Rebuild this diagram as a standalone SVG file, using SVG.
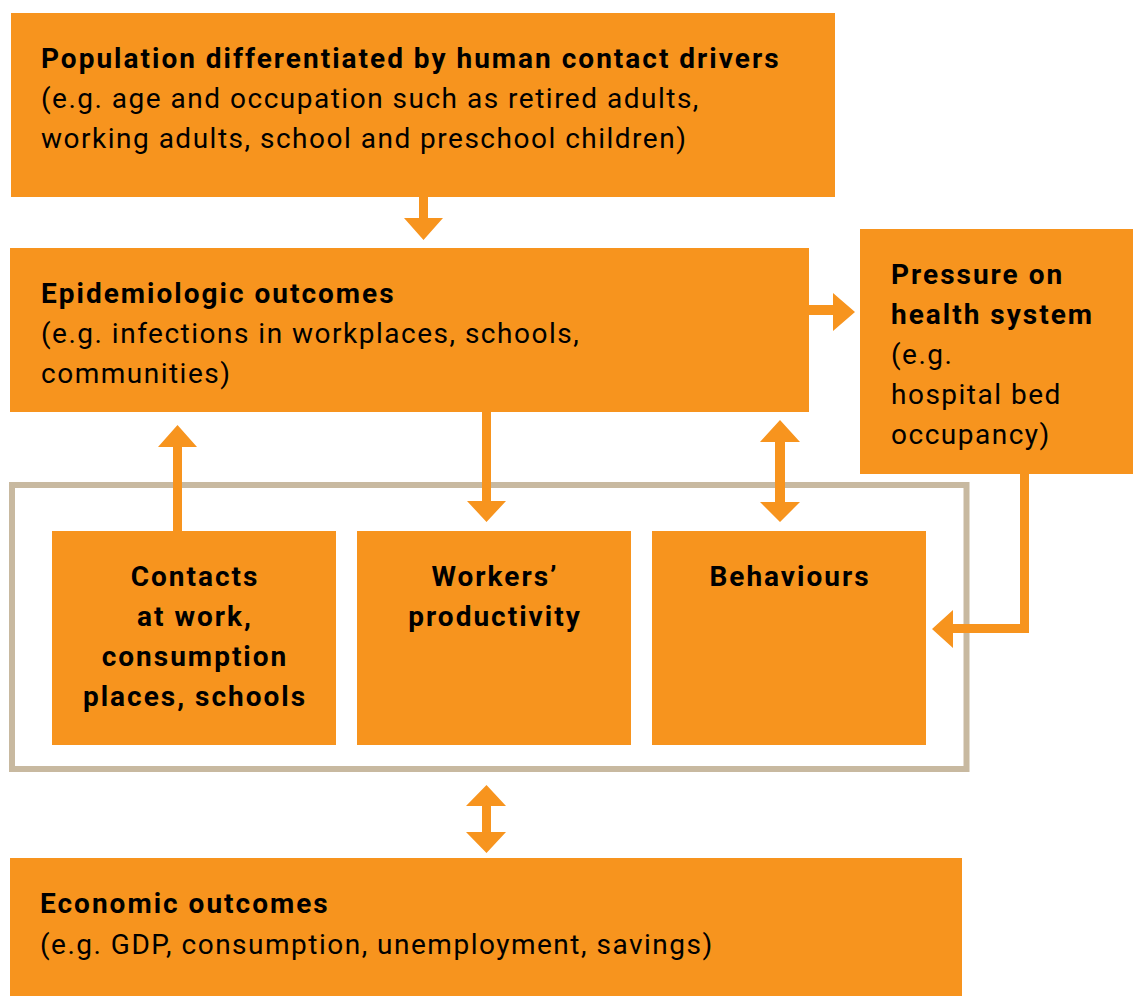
<svg xmlns="http://www.w3.org/2000/svg" width="1133" height="996" viewBox="0 0 1133 996">
<style>
.box{fill:#F7941E}
.t{font-family:Roboto,"Liberation Sans",sans-serif;font-size:28px;fill:#000;letter-spacing:1.5px}
.b{font-weight:bold;letter-spacing:2px}
.c{text-anchor:middle}
.ar{fill:#F7941E}
</style>
<rect width="1133" height="996" fill="#fff"/>
<rect x="12" y="485" width="954.5" height="284" fill="none" stroke="#C8B9A0" stroke-width="6"/>
<g id="population">
<rect class="box" x="11" y="13" width="824" height="184"/>
<text class="t b" x="41" y="68">Population differentiated by human contact drivers</text>
<text class="t" x="41" y="108">(e.g. age and occupation such as retired adults,</text>
<text class="t" x="41" y="148">working adults, school and preschool children)</text>
</g>
<g id="epidemiologic">
<rect class="box" x="10" y="248" width="799" height="164"/>
<text class="t b" x="41" y="303">Epidemiologic outcomes</text>
<text class="t" x="41" y="343">(e.g. infections in workplaces, schools,</text>
<text class="t" x="41" y="383">communities)</text>
</g>
<g id="pressure">
<rect class="box" x="860" y="229" width="273" height="245"/>
<text class="t b" x="891" y="284">Pressure on</text>
<text class="t b" x="891" y="324">health system</text>
<text class="t" x="891" y="364">(e.g.</text>
<text class="t" x="891" y="404">hospital bed</text>
<text class="t" x="891" y="444">occupancy)</text>
</g>
<g id="contacts">
<rect class="box" x="52" y="531" width="284" height="214"/>
<text class="t b c" x="195" y="586">Contacts</text>
<text class="t b c" x="195" y="626">at work,</text>
<text class="t b c" x="195" y="666">consumption</text>
<text class="t b c" x="195" y="706">places, schools</text>
</g>
<g id="workers">
<rect class="box" x="357" y="531" width="274" height="214"/>
<text class="t b c" x="495" y="586">Workers’</text>
<text class="t b c" x="495" y="626">productivity</text>
</g>
<g id="behaviours">
<rect class="box" x="652" y="531" width="274" height="214"/>
<text class="t b c" x="790" y="586">Behaviours</text>
</g>
<g id="economic">
<rect class="box" x="10" y="858" width="952" height="138"/>
<text class="t b" x="40" y="913">Economic outcomes</text>
<text class="t" x="40" y="954">(e.g. GDP, consumption, unemployment, savings)</text>
</g>
<g id="connectors">
<path class="ar" d="M419 197H428V218H443L423.5 240L404 218H419Z"/>
<path class="ar" d="M809 305H833V293L855 312L833 331V315H809Z"/>
<path class="ar" d="M775 442H760L780 420L800 442H785V502H800L780 522L760 502H775Z"/>
<path class="ar" d="M173 531V447H158L177.5 425L197 447H182V531Z"/>
<path class="ar" d="M482 412H491V501H506L486.5 522L467 501H482Z"/>
<path class="ar" d="M1020 474H1029V633H953V648L932 629L953 610V624H1020Z"/>
<path class="ar" d="M482 806H466L486.5 785L506 806H491V832H506L486.5 853L466 832H482Z"/>
</g>
</svg>
